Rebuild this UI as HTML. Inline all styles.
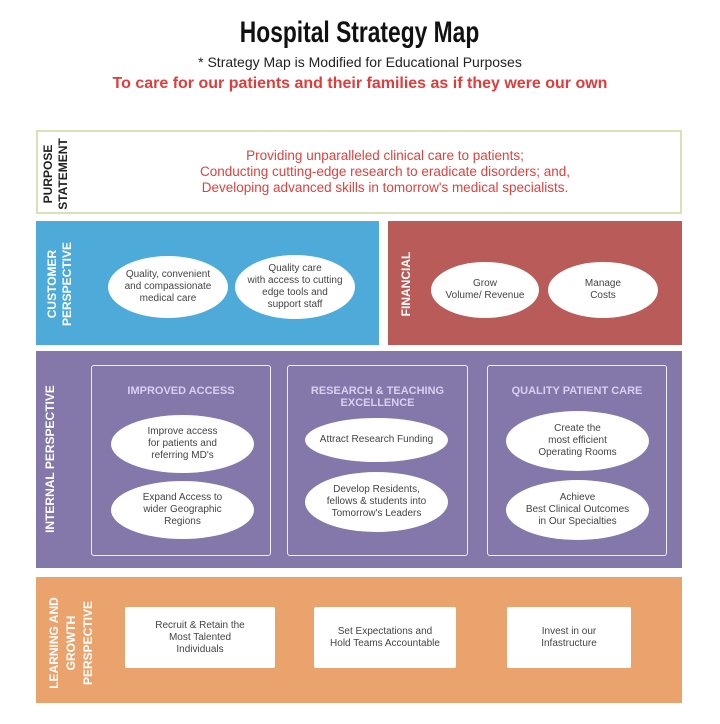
<!DOCTYPE html>
<html><head><meta charset="utf-8"><style>
*{margin:0;padding:0;box-sizing:border-box}
body{width:720px;height:724px;background:#fff;position:relative;font-family:"Liberation Sans",sans-serif;overflow:hidden}
.a{position:absolute}
.c{display:flex;align-items:center;justify-content:center;text-align:center}
.el{position:absolute;background:#fff;border-radius:50%;display:flex;align-items:center;justify-content:center;text-align:center;font-size:10px;line-height:12px;color:#444}
.bx{position:absolute;background:#fff;display:flex;align-items:center;justify-content:center;text-align:center;font-size:10px;line-height:12px;color:#444;border-radius:2px}
.v{position:absolute;transform:rotate(-90deg);transform-origin:center;font-weight:bold;font-size:12px;line-height:15px;text-align:center;white-space:nowrap;display:flex;align-items:center;justify-content:center}
.sub{position:absolute;border:1.5px solid #f0eef7;border-radius:3px}
.h{position:absolute;color:#d8d0f0;font-weight:bold;font-size:11px;line-height:12px;text-align:center;width:100%}
</style></head><body>
<div class="a c" style="left:0;top:14px;width:720px;height:38px;font-size:30px;font-weight:bold;color:#111"><span style="display:inline-block;transform:scaleX(0.76)">Hospital Strategy Map</span></div>
<div class="a c" style="left:0;top:53px;width:720px;height:18px;font-size:14px;color:#222">* Strategy Map is Modified for Educational Purposes</div>
<div class="a c" style="left:0;top:74px;width:720px;height:20px;font-size:16px;font-weight:bold;color:#e13b3b">To care for our patients and their families as if they were our own</div>

<div class="a" style="left:36px;top:130px;width:646px;height:84px;border:2px solid #d8e2b6"></div>
<div class="v" style="left:16px;top:158px;width:80px;height:32px;color:#222">PURPOSE<br>STATEMENT</div>
<div class="a c" style="left:90px;top:146px;width:590px;height:52px;font-size:13.5px;line-height:16px;color:#e0413c">Providing unparalleled clinical care to patients;<br>Conducting cutting-edge research to eradicate disorders; and,<br>Developing advanced skills in tomorrow's medical specialists.</div>

<div class="a" style="left:36px;top:221px;width:343px;height:124px;background:#4eabd9"></div>
<div class="v" style="left:15px;top:268px;width:90px;height:32px;color:#fff">CUSTOMER<br>PERSPECTIVE</div>
<div class="el" style="left:108px;top:256px;width:120px;height:62px">Quality, convenient<br>and compassionate<br>medical care</div>
<div class="el" style="left:235px;top:255px;width:120px;height:64px">Quality care<br>with access to cutting<br>edge tools and<br>support staff</div>

<div class="a" style="left:388px;top:221px;width:294px;height:124px;background:#b95b58"></div>
<div class="v" style="left:371px;top:276px;width:70px;height:16px;color:#fff">FINANCIAL</div>
<div class="el" style="left:431px;top:262px;width:108px;height:56px">Grow<br>Volume/ Revenue</div>
<div class="el" style="left:548px;top:262px;width:110px;height:56px">Manage<br>Costs</div>

<div class="a" style="left:36px;top:351px;width:646px;height:217px;background:#8477a9"></div>
<div class="v" style="left:-20px;top:451px;width:140px;height:16px;color:#fff">INTERNAL PERSPECTIVE</div>
<div class="sub" style="left:91px;top:365px;width:180px;height:191px"><div class="h" style="top:19px">IMPROVED ACCESS</div></div>
<div class="sub" style="left:287px;top:365px;width:181px;height:191px"><div class="h" style="top:19px">RESEARCH &amp; TEACHING<br>EXCELLENCE</div></div>
<div class="sub" style="left:487px;top:365px;width:180px;height:191px"><div class="h" style="top:19px">QUALITY PATIENT CARE</div></div>
<div class="el" style="left:111px;top:415px;width:143px;height:58px">Improve access<br>for patients and<br>referring MD's</div>
<div class="el" style="left:111px;top:481px;width:143px;height:58px">Expand Access to<br>wider Geographic<br>Regions</div>
<div class="el" style="left:305px;top:418px;width:143px;height:44px">Attract Research Funding</div>
<div class="el" style="left:305px;top:472px;width:143px;height:60px">Develop Residents,<br>fellows &amp; students into<br>Tomorrow's Leaders</div>
<div class="el" style="left:506px;top:411px;width:143px;height:60px">Create the<br>most efficient<br>Operating Rooms</div>
<div class="el" style="left:506px;top:480px;width:143px;height:60px">Achieve<br>Best Clinical Outcomes<br>in Our Specialties</div>

<div class="a" style="left:36px;top:577px;width:646px;height:126px;background:#eba36d"></div>
<div class="v" style="left:21px;top:616px;width:100px;height:54px;color:#fff;line-height:17px">LEARNING AND<br>GROWTH<br>PERSPECTIVE</div>
<div class="bx" style="left:125px;top:607px;width:150px;height:61px">Recruit &amp; Retain the<br>Most Talented<br>Individuals</div>
<div class="bx" style="left:314px;top:607px;width:142px;height:61px">Set Expectations and<br>Hold Teams Accountable</div>
<div class="bx" style="left:507px;top:607px;width:124px;height:61px">Invest in our<br>Infastructure</div>
</body></html>
